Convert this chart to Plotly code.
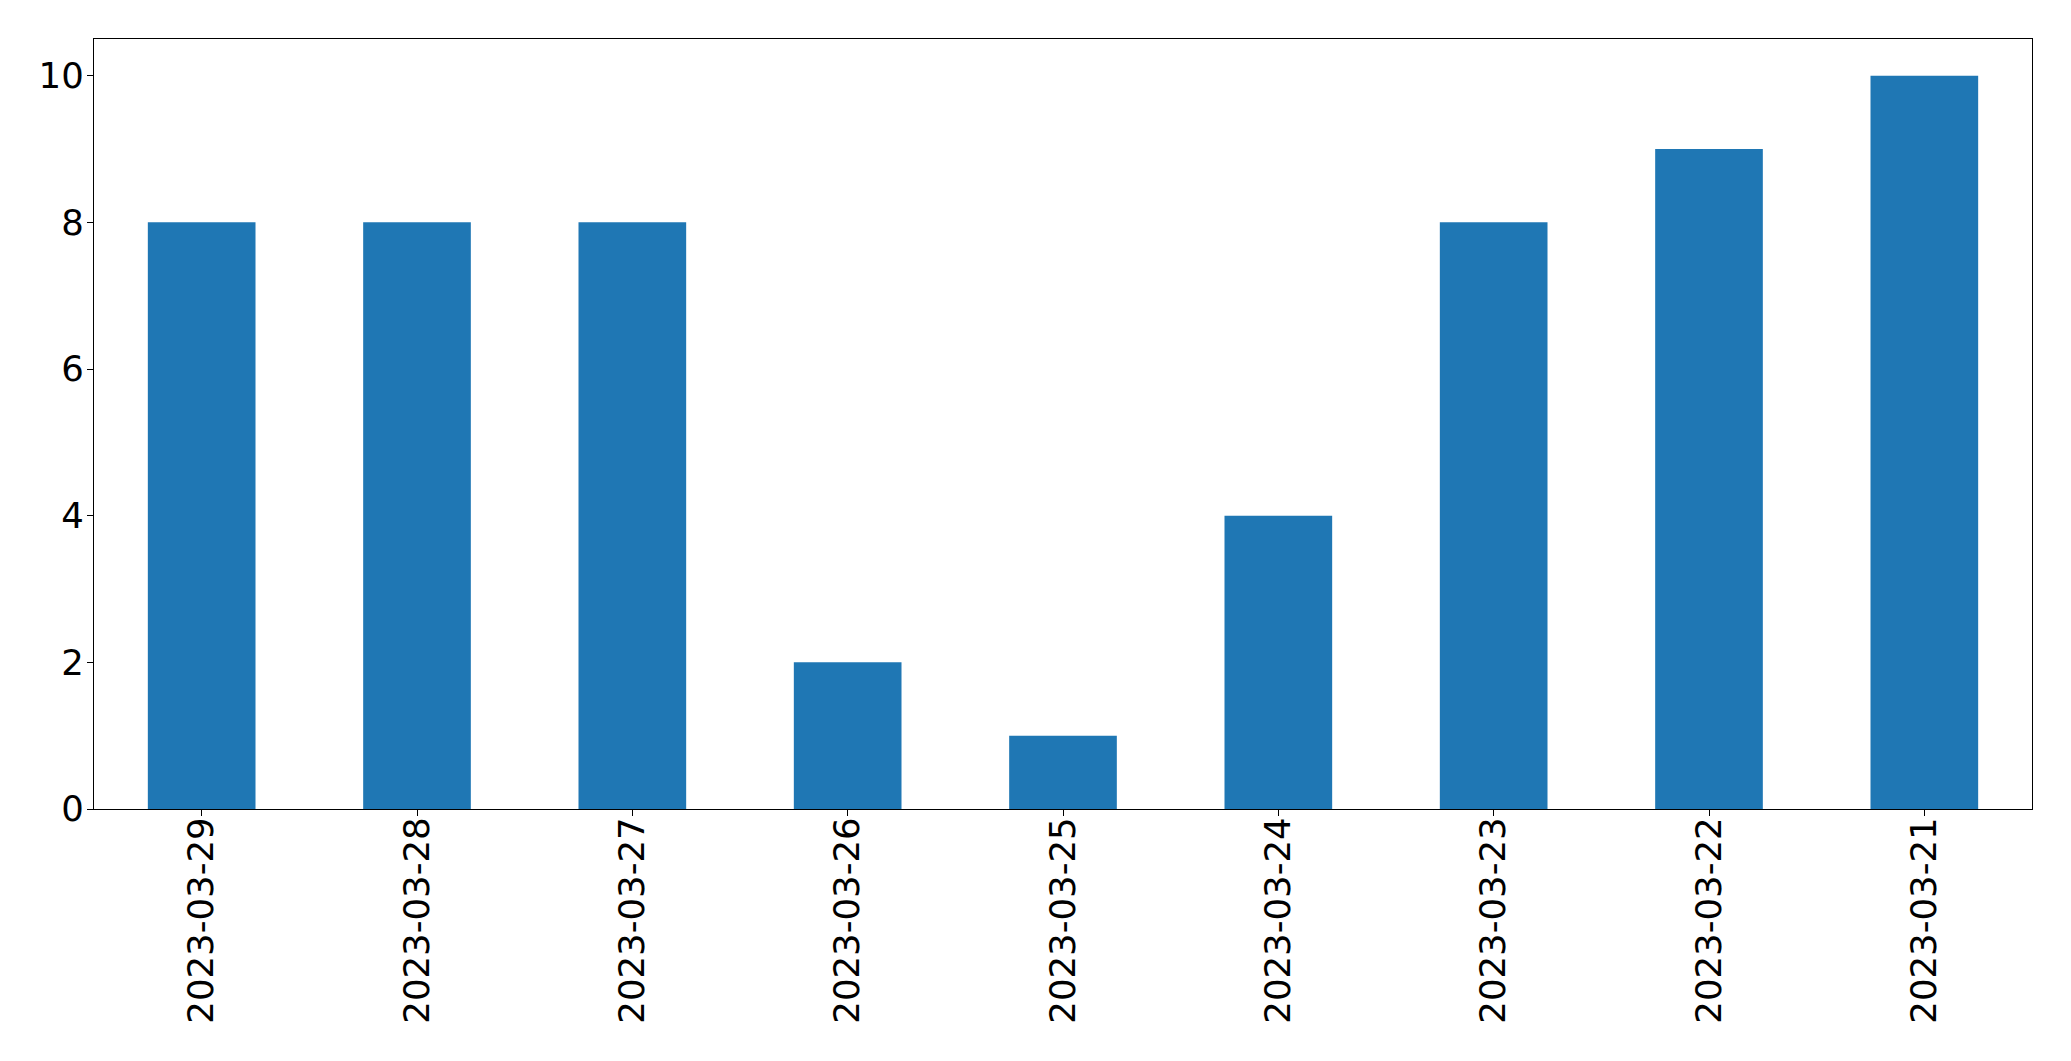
import plotly.graph_objects as go

dates = ["2023-03-29", "2023-03-28", "2023-03-27", "2023-03-26", "2023-03-25",
         "2023-03-24", "2023-03-23", "2023-03-22", "2023-03-21"]
counts = [8, 8, 8, 2, 1, 4, 8, 9, 10]
y_ticks = [0, 2, 4, 6, 8, 10]

fig = go.Figure(go.Bar(x=dates, y=counts, marker_color="#1f77b4", marker_line_width=0, width=0.5))

fig.update_layout(
    width=2063, height=1053,
    margin=dict(l=86, r=39, t=31, b=252),
    plot_bgcolor="white", paper_bgcolor="white",
    font=dict(family="DejaVu Sans", size=35.5, color="black"),
    showlegend=False,
)
fig.update_xaxes(
    type="category", range=[-0.5, 8.5], tickangle=-90,
    showline=True, linecolor="black", linewidth=1.3, mirror=True,
    ticks="outside", ticklen=6, tickwidth=1.3, tickcolor="black",
    ticklabelstandoff=-13,
    showgrid=False, zeroline=False,
)
fig.update_yaxes(
    range=[0, 10.5], tickvals=y_ticks,
    showline=True, linecolor="black", linewidth=1.3, mirror=True,
    ticks="outside", ticklen=6, tickwidth=1.3, tickcolor="black",
    ticklabelstandoff=-4,
    showgrid=False, zeroline=False,
)

fig.write_html("out.html")
